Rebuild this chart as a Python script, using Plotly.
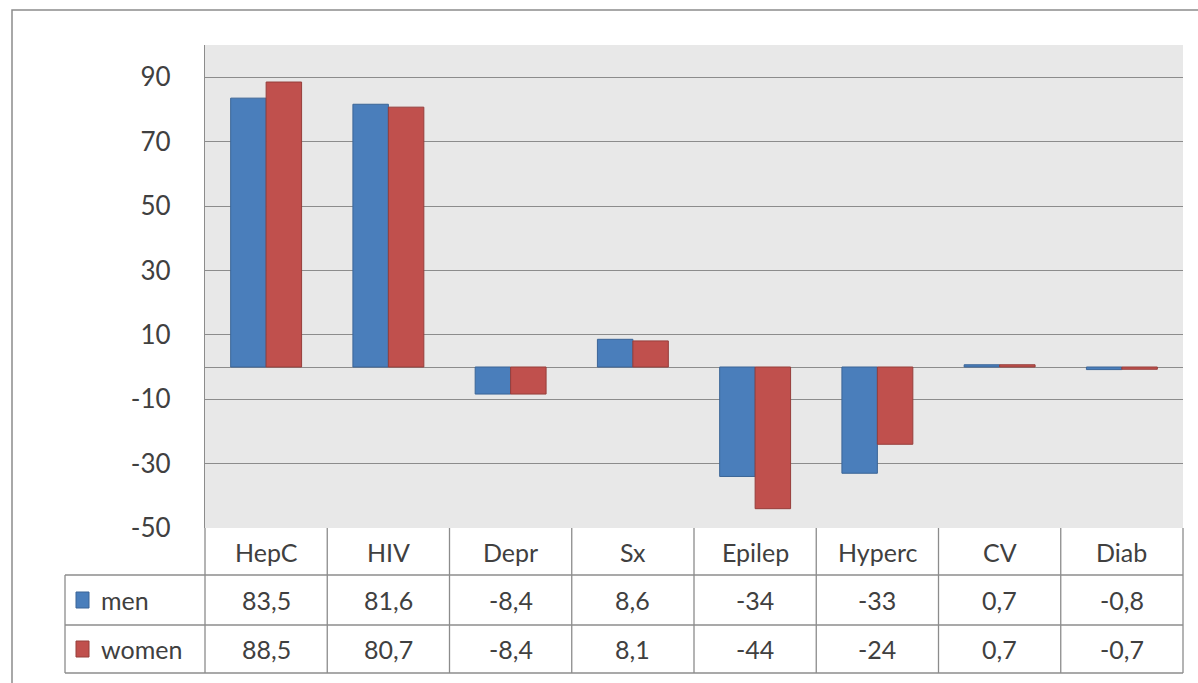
import plotly.graph_objects as go

# Data
categories = ["HepC", "HIV", "Depr", "Sx", "Epilep", "Hyperc", "CV", "Diab"]
men = [83.5, 81.6, -8.4, 8.6, -34, -33, 0.7, -0.8]
women = [88.5, 80.7, -8.4, 8.1, -44, -24, 0.7, -0.7]
men_labels = ["83,5", "81,6", "-8,4", "8,6", "-34", "-33", "0,7", "-0,8"]
women_labels = ["88,5", "80,7", "-8,4", "8,1", "-44", "-24", "0,7", "-0,7"]
y_ticks = [-50, -30, -10, 10, 30, 50, 70, 90]
y_tick_text = ["-50", "-30", "-10", "10", "30", "50", "70", "90"]

BLUE = "#4A7EBB"
BLUE_EDGE = "#3B6597"
RED = "#C0504D"
RED_EDGE = "#963E3B"
GRID = "#8C8C8C"
TEXT = "#404040"
FONT = "Lato"

W, H = 1198, 683
L, R, T, B = 205, 15, 45, 155
plot_w = W - L - R
plot_h = H - T - B


def py(pix):
    """Pixel row -> paper y."""
    return (H - B - pix) / plot_h


def px(pix):
    """Pixel column -> paper x."""
    return (pix - L) / plot_w


fig = go.Figure()
fig.add_trace(go.Bar(x=categories, y=men, name="men",
                     marker=dict(color=BLUE, line=dict(color=BLUE_EDGE, width=1))))
fig.add_trace(go.Bar(x=categories, y=women, name="women",
                     marker=dict(color=RED, line=dict(color=RED_EDGE, width=1))))

# Data table rows below the plot
row1 = py(575)
row2 = py(625)
row3 = py(673)
legend_left = px(65)

shapes = []
line = dict(color=GRID, width=1.3)
n = len(categories)
for i in range(n + 1):
    shapes.append(dict(type="line", xref="paper", yref="paper",
                       x0=i / n, x1=i / n, y0=0, y1=row3, line=line))
shapes.append(dict(type="line", xref="paper", yref="paper",
                   x0=legend_left, x1=legend_left, y0=row1, y1=row3, line=line))
for yy in (row1, row2, row3):
    shapes.append(dict(type="line", xref="paper", yref="paper",
                       x0=legend_left, x1=1, y0=yy, y1=yy, line=line))

# Legend keys inside the table
for (y0, y1), col, edge in (((py(608), py(592)), BLUE, BLUE_EDGE),
                            ((py(657), py(641)), RED, RED_EDGE)):
    shapes.append(dict(type="rect", xref="paper", yref="paper",
                       x0=px(76), x1=px(89), y0=y0, y1=y1,
                       fillcolor=col, line=dict(color=edge, width=1)))

# Outer frame
shapes.append(dict(type="rect", xref="paper", yref="paper",
                   x0=px(12), x1=px(W + 20), y0=py(10), y1=py(H + 20),
                   line=dict(color="#8C8C8C", width=1.5), layer="below"))

annotations = []
tfont = dict(family=FONT, size=25, color=TEXT)
for i, c in enumerate(categories):
    for yy, txt in (((0 + row1) / 2, c),
                    ((row1 + row2) / 2, men_labels[i]),
                    ((row2 + row3) / 2, women_labels[i])):
        annotations.append(dict(x=c, xref="x", y=yy, yref="paper",
                                text=txt, showarrow=False, font=tfont,
                                xanchor="center", yanchor="middle"))
for yy, txt in (((row1 + row2) / 2, "men"), ((row2 + row3) / 2, "women")):
    annotations.append(dict(x=px(99), xref="paper", y=yy, yref="paper",
                            text=txt, showarrow=False, font=tfont,
                            xanchor="left", yanchor="middle"))

fig.update_layout(
    width=W, height=H,
    margin=dict(l=L, r=R, t=T, b=B),
    paper_bgcolor="white",
    plot_bgcolor="#E8E8E8",
    barmode="group",
    bargap=0.42,
    bargroupgap=0,
    showlegend=False,
    font=dict(family=FONT, color=TEXT),
    shapes=shapes,
    annotations=annotations,
    xaxis=dict(showticklabels=False, showgrid=False, ticks="",
               range=[-0.5, n - 0.5], fixedrange=True),
    yaxis=dict(range=[-50, 100], tickvals=y_ticks, ticktext=y_tick_text,
               showgrid=True, gridcolor=GRID, gridwidth=1.3,
               zeroline=True, zerolinecolor=GRID, zerolinewidth=1.3,
               showline=True, linecolor=GRID, linewidth=1.3,
               ticks="", ticklabelstandoff=28,
               tickfont=dict(family=FONT, size=26, color=TEXT)),
)

fig.write_html("out.html")
